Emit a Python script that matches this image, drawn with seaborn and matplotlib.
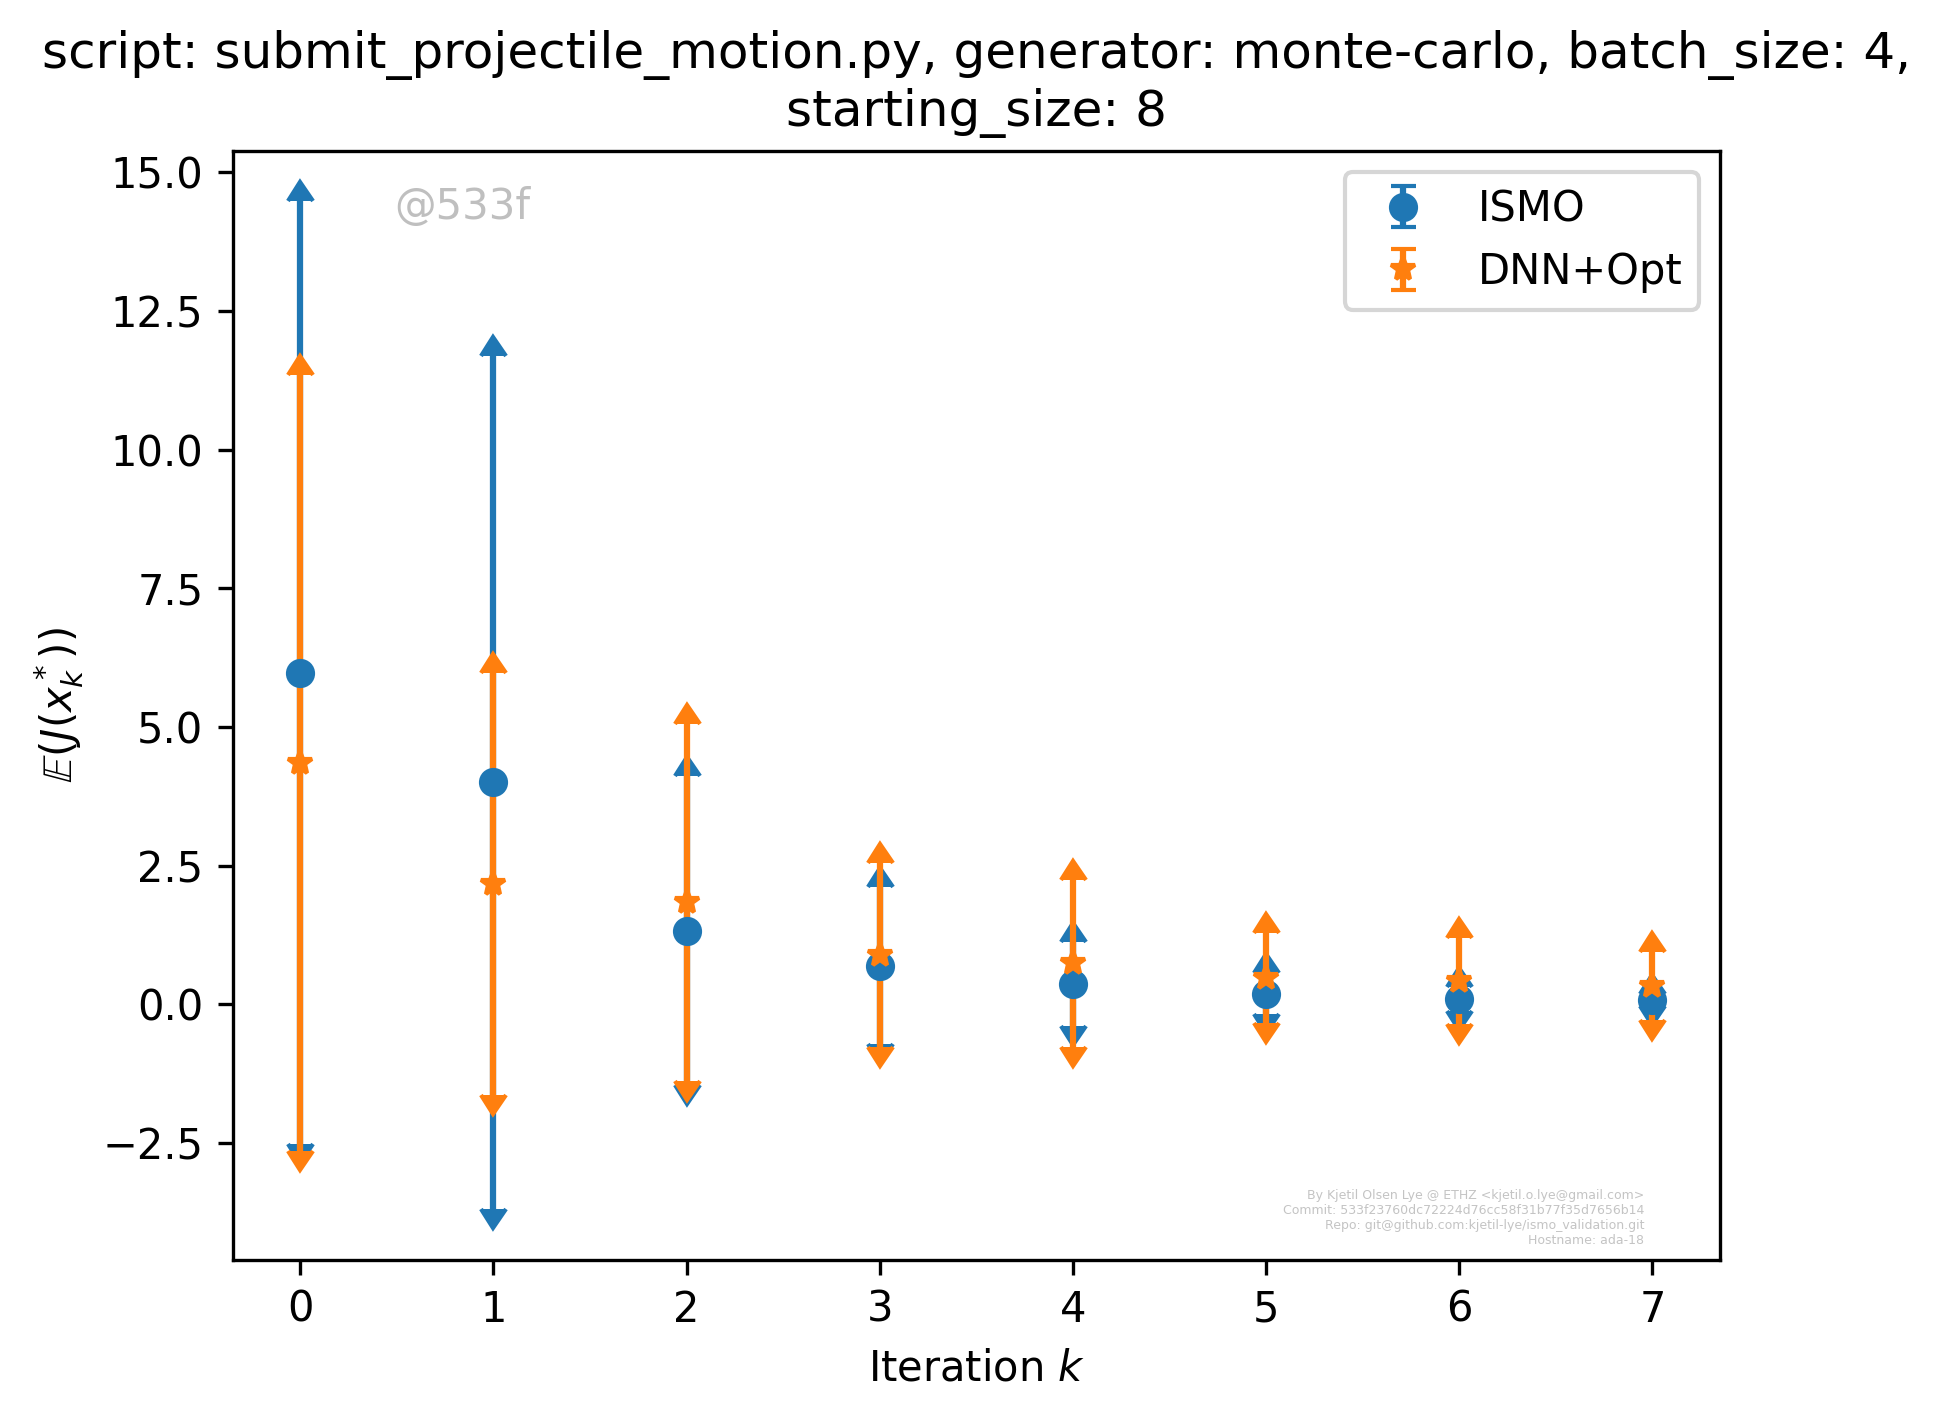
import matplotlib
matplotlib.use("Agg")
import matplotlib.pyplot as plt
import matplotlib.lines as mlines
import numpy as np
import pandas as pd
import seaborn as sns

# ---- data -----------------------------------------------------------------
iterations = [0, 1, 2, 3, 4, 5, 6, 7]
ismo_mean = [5.98, 4.00, 1.33, 0.70, 0.37, 0.19, 0.10, 0.08]
ismo_std = [8.50, 7.69, 2.78, 1.41, 0.76, 0.37, 0.22, 0.10]
dnn_mean = [4.35, 2.17, 1.84, 0.89, 0.74, 0.48, 0.42, 0.33]
dnn_std = [7.00, 3.81, 3.22, 1.65, 1.51, 0.81, 0.78, 0.62]
series_names = ["ISMO", "DNN+Opt"]

title_text = ("script: submit_projectile_motion.py, generator: monte-carlo, "
              "batch_size: 4,\nstarting_size: 8")
credit_text = ("By Kjetil Olsen Lye @ ETHZ <kjetil.o.lye@gmail.com>\n"
               "Commit: 533f23760dc72224d76cc58f31b77f35d7656b14\n"
               "Repo: git@github.com:kjetil-lye/ismo_validation.git\n"
               "Hostname: ada-18")
tag_text = "@533f"

df = pd.DataFrame({
    "k": iterations * 2,
    "mean": ismo_mean + dnn_mean,
    "std": ismo_std + dnn_std,
    "method": [series_names[0]] * len(iterations) + [series_names[1]] * len(iterations),
})

# ---- figure ---------------------------------------------------------------
plt.rcParams["font.family"] = ["DejaVu Sans"]
fig = plt.figure(figsize=(1941 / 300, 1419 / 300), dpi=300)
ax = fig.add_axes([0.1198, 0.1124, 0.8862 - 0.1198, 0.8938 - 0.1124])

palette = sns.color_palette("tab10", 2)
fmts = {"ISMO": "o", "DNN+Opt": "*"}

for i, name in enumerate(series_names):
    sub = df[df["method"] == name]
    cont = ax.errorbar(sub["k"], sub["mean"], yerr=sub["std"], fmt=fmts[name],
                       color=palette[i], capsize=3, label=name)
    means = sub["mean"].to_numpy()
    for cap in cont[1]:
        yd = np.asarray(cap.get_ydata())
        if np.mean(yd) < np.mean(means):
            cap.set_marker(mlines.CARETDOWNBASE)
        else:
            cap.set_marker(mlines.CARETUPBASE)

ax.set_title(title_text, fontsize=12)
ax.set_xlabel("Iteration $k$")
ax.set_ylabel(r"$\mathbb{E}(J(x_k^*))$")
ax.legend(loc="upper right")

ax.text(0.109, 0.938, tag_text, transform=ax.transAxes, fontsize=10,
        color="#bfbfbf", ha="left", va="baseline")
ax.text(0.949, 0.011, credit_text, transform=ax.transAxes, fontsize=3,
        color="#c4c4c4", ha="right", va="bottom", multialignment="right")

fig.savefig("out.png", dpi=300)
